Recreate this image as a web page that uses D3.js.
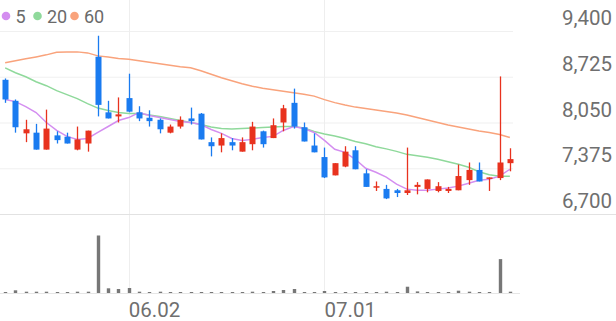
<!DOCTYPE html>
<html><head><meta charset="utf-8">
<script src="https://cdn.jsdelivr.net/npm/d3@7"></script>
<style>
html,body{margin:0;padding:0;background:#fff;}
svg{display:block;font-family:Roboto,"Noto Sans",sans-serif;}
</style></head>
<body><svg id="c" width="616" height="321"></svg>
<script>
const dates = ["2025-05-15","2025-05-16","2025-05-19","2025-05-20","2025-05-21","2025-05-22","2025-05-23","2025-05-26","2025-05-27","2025-05-28",
"2025-05-29","2025-05-30","2025-06-02","2025-06-04","2025-06-05","2025-06-09","2025-06-10","2025-06-11","2025-06-12","2025-06-13",
"2025-06-16","2025-06-17","2025-06-18","2025-06-19","2025-06-20","2025-06-23","2025-06-24","2025-06-25","2025-06-26","2025-06-27",
"2025-06-30","2025-07-01","2025-07-02","2025-07-03","2025-07-04","2025-07-07","2025-07-08","2025-07-09","2025-07-10","2025-07-11",
"2025-07-14","2025-07-15","2025-07-16","2025-07-17","2025-07-18","2025-07-21","2025-07-22","2025-07-23","2025-07-24","2025-07-25"];
const open  = [8680,8370,7890,7900,7650,7860,7840,7650,7740,9020,8200,8140,8410,8200,8120,8090,7900,7990,8110,8180,7760,7710,7760,7620,7730,7920,7820,8050,8340,7980,7710,7540,7270,7400,7640,7300,7100,7070,7050,7010,7100,7070,7040,7040,7050,7200,7350,7230,7230,7450];
const high  = [8700,8390,8090,8030,8240,7920,7900,7990,7930,9330,8370,8420,8770,8290,8230,8110,8020,8140,8270,8190,7830,7890,7820,7830,8060,7930,8110,8310,8550,8050,7890,7680,7450,7700,7700,7360,7180,7130,7070,7680,7170,7210,7170,7100,7430,7460,7460,7240,8730,7670];
const low   = [8340,7900,7760,7650,7650,7740,7740,7640,7620,8140,8110,8050,8200,8070,7990,7890,7890,7960,8020,7800,7550,7610,7640,7620,7640,7680,7820,7920,7960,7770,7610,7230,7270,7390,7360,7100,7040,6920,6950,6980,6990,7020,7020,7010,7050,7130,7180,7040,7200,7330];
const close = [8390,7980,7950,7650,7960,7790,7740,7800,7930,8310,8110,8170,8210,8110,8070,7950,7990,8090,8070,7800,7700,7820,7710,7760,7990,7730,8010,8260,7990,7770,7610,7240,7450,7620,7360,7100,7110,6930,7010,7050,7130,7210,7110,7070,7260,7350,7180,7240,7460,7510];
const volume = [35,135,65,65,65,35,35,65,65,2885,235,200,250,65,35,65,35,35,50,50,50,35,50,35,65,35,100,150,200,50,50,100,50,50,35,50,50,65,35,315,80,35,35,35,115,65,50,35,1700,65];
const ma5  = [8388,8358,8285,8197,8050,7933,7845,7801,7815,7903,7991,8079,8123,8197,8153,8123,8094,8065,8050,8021,7947,7889,7815,7786,7801,7830,7845,7933,7991,7962,7903,7786,7654,7610,7507,7375,7316,7243,7140,7067,7052,7052,7067,7082,7111,7155,7199,7214,7258,7360];
const ma20 = [8857,8784,8725,8652,8593,8520,8461,8402,8329,8263,8226,8197,8182,8182,8160,8138,8109,8079,8050,8021,7984,7962,7955,7962,7969,7977,7984,7991,7991,7969,7918,7881,7852,7815,7771,7735,7691,7661,7624,7580,7558,7536,7507,7470,7434,7390,7324,7280,7258,7258];
const ma60 = [8930,8960,8989,9018,9048,9085,9092,9092,9077,9033,9018,8996,8982,8960,8938,8916,8894,8872,8857,8813,8762,8710,8666,8622,8586,8556,8534,8512,8490,8468,8439,8387,8343,8307,8277,8255,8233,8211,8189,8160,8123,8087,8050,8013,7984,7955,7925,7903,7874,7830];
const priceTicks = [6700,7375,8050,8725,9400];
const dateTicks = ["2025-06-02","2025-07-01"];
const legendLabels = ["5","20","60"];

const colors = {up:"#e8321e", down:"#1a7bf0", ma5:"#d48ef0", ma20:"#8fd99b", ma60:"#f9a37c", vol:"#777777"};

const svg = d3.select("#c");
svg.append("rect").attr("width",616).attr("height",321).attr("fill","#fff");

const x = d3.scaleBand().domain(dates).range([0,515]);
const cx = d => x(d) + x.bandwidth()/2;
const y = d3.scaleLinear().domain([6700,9400]).range([214,31]);
const yv = d3.scaleLinear().domain([0, d3.max(volume)]).range([293,235.5]);

// horizontal grid
const grid = svg.append("g").attr("transform","translate(513,0)")
  .call(d3.axisLeft(y).tickValues(priceTicks).tickSize(513).tickFormat(""));
grid.select(".domain").remove();
grid.selectAll("line").attr("stroke","#f0f0f0").attr("stroke-width",1.2);

// vertical grid
svg.append("g").selectAll("line").data(dateTicks).join("line")
  .attr("x1",d=>Math.round(cx(d))+0.5).attr("x2",d=>Math.round(cx(d))+0.5)
  .attr("y1",0).attr("y2",294).attr("stroke","#eeeeee");

// bottom line of price panel
svg.append("line").attr("x1",0).attr("x2",616).attr("y1",y(6700)+0.5).attr("y2",y(6700)+0.5).attr("stroke","#e2e2e2");
// volume baseline
svg.append("line").attr("x1",0).attr("x2",520).attr("y1",293.5).attr("y2",293.5).attr("stroke","#e6e6e6");

// price labels
const ya = svg.append("g").attr("transform","translate(612,0)")
  .call(d3.axisLeft(y).tickValues(priceTicks).tickSize(0).tickPadding(0).tickFormat(d3.format(",")));
ya.select(".domain").remove();
ya.selectAll("text").attr("dy",-6.5).attr("fill","#6f6f6f").style("font-size","20.5px").style("font-family","Roboto");

// date labels
const xa = svg.append("g").attr("transform","translate(0,300)")
  .call(d3.axisBottom(x).tickValues(dateTicks).tickSize(0).tickPadding(0)
    .tickFormat(d => d3.timeFormat("%m.%d")(d3.timeParse("%Y-%m-%d")(d))));
xa.select(".domain").remove();
xa.selectAll("text").attr("text-anchor","start").attr("dy",17).attr("y",0)
  .attr("fill","#6f6f6f").style("font-size","20.5px").style("font-family","Roboto");

// MA lines
const mk = arr => d3.line().x((d,i)=>cx(dates[i])).y(d=>y(d));
[[ma60,colors.ma60],[ma20,colors.ma20],[ma5,colors.ma5]].forEach(([arr,c])=>{
  svg.append("path").attr("d", mk(arr)(arr)).attr("fill","none").attr("stroke",c).attr("stroke-width",1.5);
});

// candles
const idx = d3.range(dates.length);
const bw = 6;
const cg = svg.append("g");
cg.selectAll("line").data(idx).join("line")
  .attr("x1",i=>Math.round(cx(dates[i]))+0.5).attr("x2",i=>Math.round(cx(dates[i]))+0.5)
  .attr("y1",i=>y(high[i])).attr("y2",i=>y(low[i]))
  .attr("stroke",i=>close[i]>=open[i]?colors.up:colors.down).attr("stroke-width",1.3);
cg.selectAll("rect").data(idx).join("rect")
  .attr("x",i=>Math.round(cx(dates[i]))+0.5-bw/2).attr("width",bw)
  .attr("y",i=>y(Math.max(open[i],close[i])))
  .attr("height",i=>Math.max(1.5, Math.abs(y(open[i])-y(close[i]))))
  .attr("fill",i=>close[i]>=open[i]?colors.up:colors.down);

// volume
svg.append("g").selectAll("rect").data(idx).join("rect")
  .attr("x",i=>Math.round(cx(dates[i]))+0.5-1.7).attr("width",3.4)
  .attr("y",i=>Math.min(yv(volume[i]),292))
  .attr("height",i=>Math.max(1, 293-yv(volume[i])))
  .attr("fill",colors.vol);

// legend
const lg = svg.append("g");
const lcol = [colors.ma5, colors.ma20, colors.ma60];
const lx = [6, 37.5, 74.5];
legendLabels.forEach((t,k)=>{
  lg.append("circle").attr("cx",lx[k]).attr("cy",16).attr("r",4.3).attr("fill",lcol[k]);
  lg.append("text").attr("x",lx[k]+9.5).attr("y",22.5).text(t)
    .attr("fill","#6a6a6a").style("font-size","18px").style("font-family","Roboto");
});
</script></body></html>
